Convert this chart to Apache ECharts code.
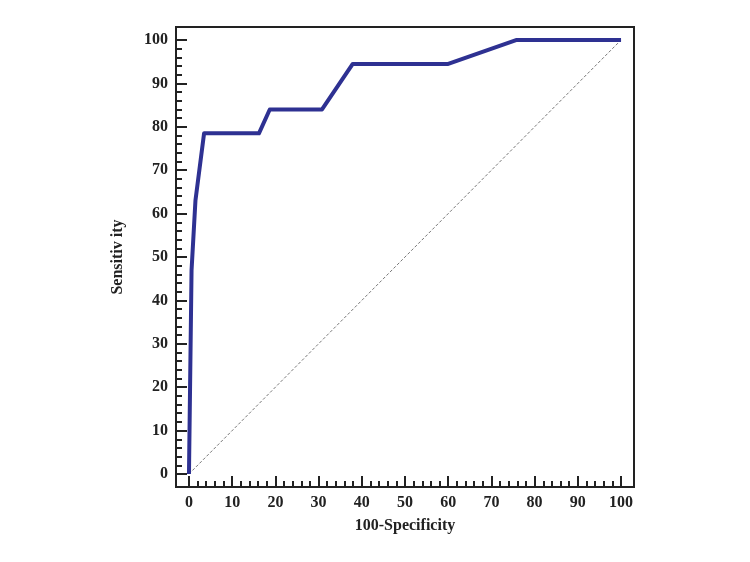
<!DOCTYPE html>
<html>
<head>
<meta charset="utf-8">
<script src="https://cdn.jsdelivr.net/npm/echarts@6/dist/echarts.min.js"></script>
<style>
  html, body { margin: 0; padding: 0; background: #fff; }
  #chart { width: 750px; height: 562px; }
</style>
</head>
<body>
<div id="chart"></div>
<script>
// ROC curve points
var specX = [0, 0.6, 1.5, 3.5, 16.2, 18.7, 30.8, 37.9, 60.0, 75.7, 100];
var sensY = [0, 47, 63, 78.5, 78.5, 84, 84, 94.5, 94.5, 100, 100];

// reference diagonal
var diagX = [0, 100];
var diagY = [0, 100];

var majorTicks = [0, 10, 20, 30, 40, 50, 60, 70, 80, 90, 100];
var minorTicks = [];
for (var i = 0; i < 100; i += 2) {
    if (i % 10 !== 0) minorTicks.push(i);
}

var font = 'Liberation Serif';
var ink = '#222';

function pairs(xs, ys) {
    return xs.map(function (x, i) { return [x, ys[i]]; });
}

function axis(dim, ticks, len, withLabels) {
    return {
        type: 'value',
        min: -3,
        max: 103,
        position: dim === 'x' ? 'bottom' : 'left',
        splitLine: { show: false },
        axisLine: { show: false, onZero: false },
        axisTick: {
            show: true,
            inside: true,
            length: len,
            customValues: ticks,
            lineStyle: { color: ink, width: 2 }
        },
        axisLabel: withLabels ? {
            customValues: ticks,
            margin: 8,
            fontFamily: font,
            fontWeight: 'bold',
            fontSize: 16,
            color: ink
        } : { show: false }
    };
}

var chart = echarts.init(document.getElementById('chart'));

var nameStyle = { fontFamily: font, fontWeight: 'bold', fontSize: 16, color: ink };

var xMain = axis('x', majorTicks, 11, true);
xMain.name = '100-Specificity';
xMain.nameLocation = 'middle';
xMain.nameGap = 31;
xMain.nameTextStyle = nameStyle;

var yMain = axis('y', majorTicks, 11, true);
yMain.name = 'Sensitiv ity';
yMain.nameLocation = 'middle';
yMain.nameGap = 50;
yMain.nameTextStyle = nameStyle;

chart.setOption({
    animation: false,
    backgroundColor: '#fff',
    grid: {
        left: 176,
        right: 116,
        top: 27,
        bottom: 75,
        show: true,
        borderColor: ink,
        borderWidth: 2
    },
    xAxis: [xMain, axis('x', minorTicks, 6, false)],
    yAxis: [yMain, axis('y', minorTicks, 6, false)],
    series: [
        {
            type: 'line',
            data: pairs(diagX, diagY),
            symbol: 'none',
            silent: true,
            lineStyle: { color: '#777', width: 1, type: [3, 2] },
            z: 1
        },
        {
            type: 'line',
            data: pairs(specX, sensY),
            symbol: 'none',
            lineStyle: { color: '#2e3192', width: 4, join: 'round' },
            z: 2
        }
    ]
});
</script>
</body>
</html>
